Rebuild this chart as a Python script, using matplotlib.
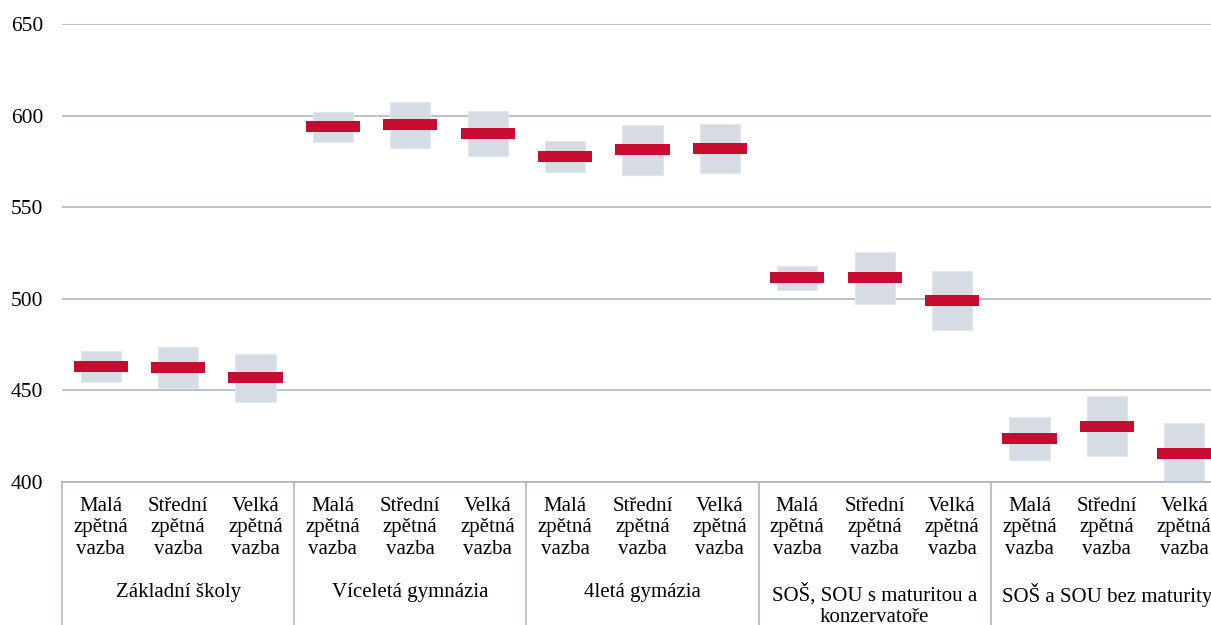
#!/usr/bin/env python3
"""Mean score with confidence band by school type and feedback level."""

import matplotlib

matplotlib.use("Agg")
import matplotlib.pyplot as plt
import numpy as np

FEEDBACK = ["Malá\nzpětná\nvazba", "Střední\nzpětná\nvazba", "Velká\nzpětná\nvazba"]
SCHOOLS = [
    "Základní školy",
    "Víceletá gymnázia",
    "4letá gymázia",
    "SOŠ, SOU s maturitou a\nkonzervatoře",
    "SOŠ a SOU bez maturity",
]
MEANS = [463, 462.5, 457, 594, 595, 590, 577.5, 581.5, 582, 511.5, 511.5, 499, 423.5, 430.5, 415.5]
LOWER = [454.5, 451.5, 443.5, 585.5, 582.5, 578, 569, 567.5, 568.5, 505, 497, 483, 412, 414, 398]
UPPER = [471.5, 473.5, 470, 602, 607.5, 602.5, 586, 595, 595.5, 518, 525.5, 515, 435.5, 447, 432]
Y_TICKS = [400, 450, 500, 550, 600, 650]

RED = "#C60D31"
BAND = "#D5DCE4"
GRID = "#A7B2C4"

plt.rcParams["font.family"] = ["Liberation Serif", "DejaVu Serif"]

fig = plt.figure(figsize=(12.11, 6.25), dpi=100)
ax = fig.add_axes([62 / 1211, 143 / 625, 1161 / 1211, 458 / 625])

n_grp = len(FEEDBACK)
x = np.arange(len(MEANS)) + 0.5
lower = np.array(LOWER)
upper = np.array(UPPER)
means = np.array(MEANS)

ax.bar(x, upper - lower, bottom=lower, width=0.52, color=BAND,
       edgecolor="#E3E7EC", linewidth=0.8, zorder=2)
ax.bar(x, 6, bottom=means - 3, width=0.70, color=RED, zorder=3)

ax.set_xlim(0, len(MEANS))
ax.set_ylim(400, 650)
ax.set_yticks(Y_TICKS)
ax.set_xticks([])
ax.tick_params(axis="y", length=0, pad=13.5, labelsize=15.5)
ax.grid(True, axis="y", color=GRID, linewidth=1.1, zorder=0)
for side in ["top", "right", "left"]:
    ax.spines[side].set_visible(False)
ax.spines["bottom"].set_color(GRID)
ax.spines["bottom"].set_linewidth(1.1)

for i, lab in enumerate(FEEDBACK * len(SCHOOLS)):
    ax.annotate(lab, xy=(x[i], 0), xycoords=("data", "axes fraction"),
                xytext=(0, -10.5), textcoords="offset points",
                ha="center", va="top", fontsize=15, linespacing=1.2)

for g, name in enumerate(SCHOOLS):
    ax.annotate(name, xy=(g * n_grp + n_grp / 2, 0), xycoords=("data", "axes fraction"),
                xytext=(0, -73), textcoords="offset points",
                ha="center", va="top", fontsize=15, linespacing=1.12)

for b in range(len(SCHOOLS) + 1):
    ax.plot([b * n_grp, b * n_grp], [0, -0.35], transform=ax.get_xaxis_transform(),
            color=GRID, linewidth=1.1, clip_on=False)

fig.savefig("out.png", dpi=100, facecolor="white")
